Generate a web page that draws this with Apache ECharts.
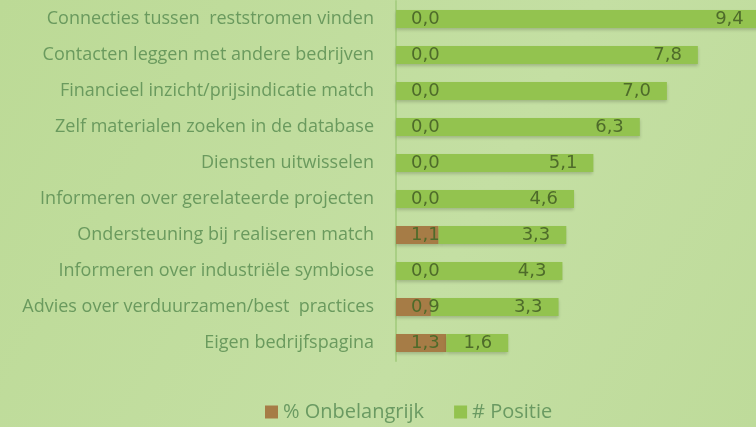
<!DOCTYPE html>
<html>
<head>
<meta charset="utf-8">
<script src="https://cdn.jsdelivr.net/npm/echarts@6/dist/echarts.min.js"></script>
<style>
  html, body { margin: 0; padding: 0; }
  body { background: #c0dc9c; }
  #chart { width: 756px; height: 427px; }
</style>
</head>
<body>
<div id="chart"></div>
<script>
  // categories, top to bottom as in the picture
  var categories = [
    'Connecties tussen  reststromen vinden',
    'Contacten leggen met andere bedrijven',
    'Financieel inzicht/prijsindicatie match',
    'Zelf materialen zoeken in de database',
    'Diensten uitwisselen',
    'Informeren over gerelateerde projecten',
    'Ondersteuning bij realiseren match',
    'Informeren over industriële symbiose',
    'Advies over verduurzamen/best  practices',
    'Eigen bedrijfspagina'
  ];
  var onbelangrijk = [0.0, 0.0, 0.0, 0.0, 0.0, 0.0, 1.1, 0.0, 0.9, 1.3];
  var positie = [9.4, 7.8, 7.0, 6.3, 5.1, 4.6, 3.3, 4.3, 3.3, 1.6];
  var seriesNames = ['% Onbelangrijk', '# Positie'];

  var chart = echarts.init(document.getElementById('chart'));

  function fmt(p) {
    return p.value.toFixed(1).replace('.', ',');
  }

  var labelFont = 'Open Sans, sans-serif';
  var valueFont = 'DejaVu Sans, sans-serif';

  var option = {
    backgroundColor: {
      type: 'linear', x: 0, y: 0, x2: 1, y2: 1,
      colorStops: [
        { offset: 0, color: '#bcda96' },
        { offset: 0.6, color: '#c4dfa3' },
        { offset: 1, color: '#bedb9a' }
      ]
    },
    animation: false,
    legend: {
      bottom: 0,
      left: 260,
      itemWidth: 13,
      itemHeight: 13,
      itemGap: 30,
      icon: 'rect',
      textStyle: { color: '#6a9a62', fontSize: 20, fontFamily: labelFont },
      data: seriesNames
    },
    grid: { left: 396, top: 1, width: 387, height: 360, outerBoundsMode: 'none' },
    xAxis: {
      type: 'value',
      min: 0,
      max: 10,
      show: false
    },
    yAxis: {
      type: 'category',
      inverse: true,
      data: categories,
      axisTick: { show: false },
      axisLine: { show: true, lineStyle: { color: '#a9cf84', width: 2 } },
      axisLabel: {
        color: '#6a9a5e',
        fontSize: 18,
        fontFamily: labelFont,
        margin: 22
      }
    },
    series: [
      {
        name: seriesNames[0],
        type: 'bar',
        stack: 'total',
        barWidth: 18,
        data: onbelangrijk,
        itemStyle: {
          color: '#a67c46',
          shadowBlur: 3, shadowOffsetY: 2, shadowColor: 'rgba(0,0,0,0.18)'
        },
        label: {
          show: true,
          position: 'insideLeft',
          distance: 15,
          color: '#4e6b2a',
          fontSize: 18,
          fontFamily: valueFont,
          formatter: fmt
        }
      },
      {
        name: seriesNames[1],
        type: 'bar',
        stack: 'total',
        barWidth: 18,
        data: positie,
        itemStyle: {
          color: '#93c34f',
          shadowBlur: 3, shadowOffsetY: 2, shadowColor: 'rgba(0,0,0,0.18)'
        },
        label: {
          show: true,
          position: 'insideRight',
          distance: 16,
          color: '#4e6b2a',
          fontSize: 18,
          fontFamily: valueFont,
          formatter: fmt
        }
      }
    ]
  };

  chart.setOption(option);
</script>
</body>
</html>
